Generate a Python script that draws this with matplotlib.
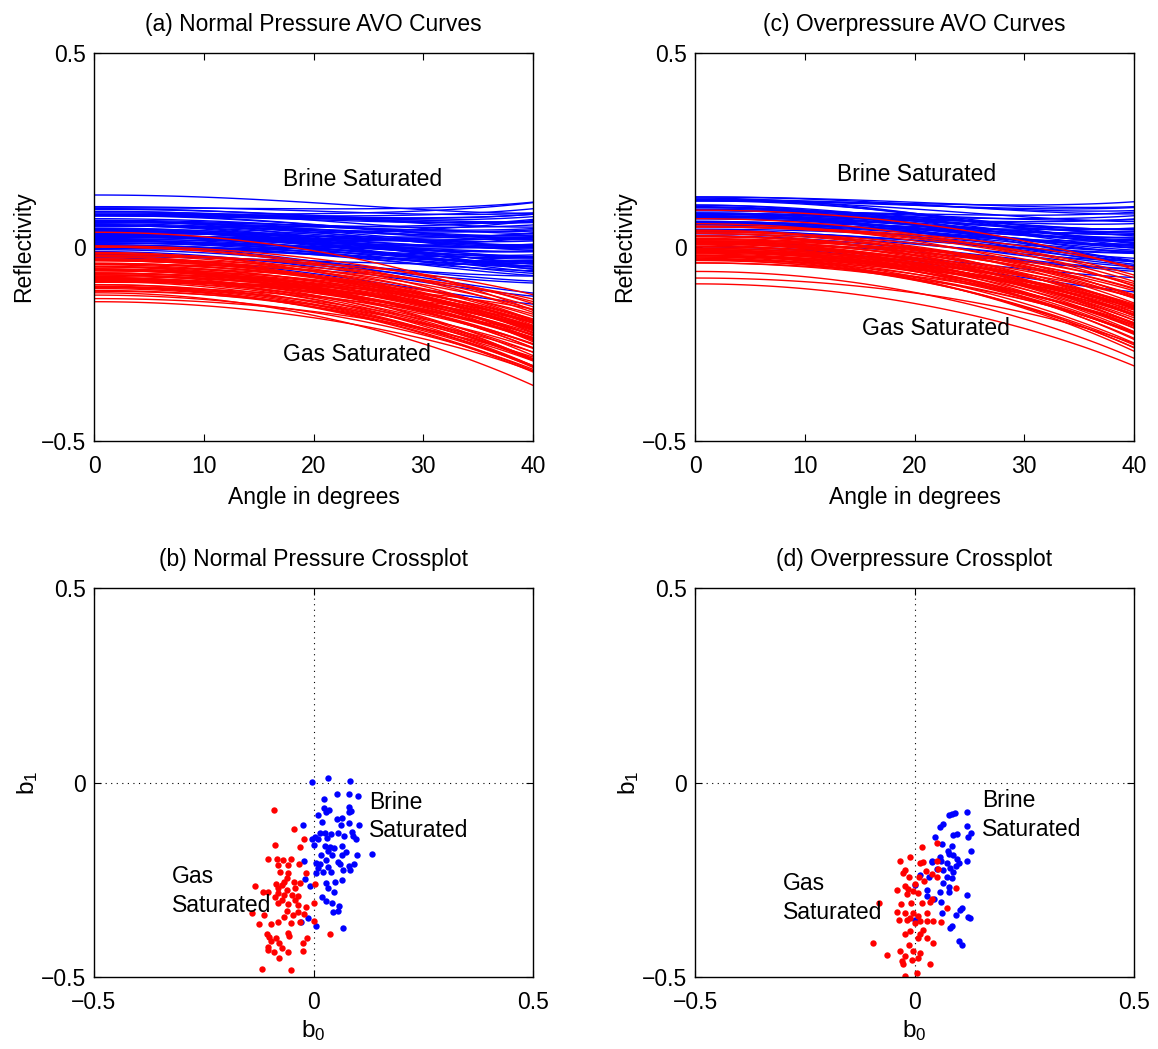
import numpy as np
import matplotlib
matplotlib.use("Agg")
import matplotlib.pyplot as plt

plt.rcParams['font.family'] = ['Liberation Sans', 'DejaVu Sans']
plt.rcParams['mathtext.default'] = 'regular'

# ---------------- data: intercept (b0) / gradient (b1) crossplots ----------------
# (b) Normal pressure, brine saturated
np_brine_b0 = [0.034, -0.004, 0.084, 0.025, 0.054, 0.082, 0.101, 0.024, 0.035, 0.029,
               0.081, 0.085, 0.080, 0.010, 0.054, 0.065, 0.020, 0.063, 0.081, 0.104,
               -0.025, 0.015, 0.026, 0.041, 0.055, 0.069, 0.088, 0.091, 0.003, 0.030,
               -0.004, 0.010, 0.097, 0.134,
               0.000, 0.026, 0.038, 0.047, 0.032, 0.064, 0.017, 0.043, 0.066, 0.073,
               0.099, -0.021, 0.005, 0.015, 0.028, 0.055, 0.060, 0.081, 0.092, 0.011,
               0.022, 0.041, 0.067, 0.083, 0.032, 0.006, -0.019, 0.028, 0.049, 0.066,
               -0.007, 0.034, 0.047, 0.019, 0.029, 0.043, 0.058,
               -0.028, -0.012, 0.005, 0.045, 0.056, 0.068]
np_brine_b1 = [0.012, 0.001, 0.003, -0.042, -0.029, -0.030, -0.035, -0.065, -0.070, -0.076,
               -0.062, -0.072, -0.075, -0.084, -0.094, -0.090, -0.101, -0.108, -0.105, -0.110,
               -0.108, -0.131, -0.130, -0.132, -0.129, -0.138, -0.127, -0.138, -0.140, -0.142,
               -0.144, -0.144, -0.145, -0.184,
               -0.161, -0.163, -0.167, -0.169, -0.175, -0.163, -0.186, -0.186, -0.186, -0.178,
               -0.186, -0.201, -0.206, -0.210, -0.199, -0.204, -0.210, -0.215, -0.210, -0.221,
               -0.229, -0.229, -0.225, -0.225, -0.216, -0.233, -0.249, -0.259, -0.255, -0.251,
               -0.266, -0.272, -0.281, -0.294, -0.305, -0.311, -0.317,
               -0.359, -0.348, -0.370, -0.333, -0.330, -0.374]

# (b) Normal pressure, gas saturated
np_gas_b0 = [-0.091, -0.044, -0.022,
             -0.088, -0.031, -0.103, -0.084, -0.069, -0.051, -0.082, -0.057, -0.033, -0.076,
             -0.059, -0.017, -0.061, -0.067, -0.044, -0.031, -0.085, -0.072, -0.133, 0.003,
             -0.080, -0.061, -0.042, -0.114, -0.104, -0.080, -0.067, -0.050, -0.035, -0.088,
             -0.072, -0.042, -0.080, -0.059, -0.035, 0.000, -0.017,
             -0.141, -0.124, -0.112, -0.097, -0.082, -0.067, -0.061, -0.046, -0.035, -0.051,
             -0.031, -0.021, 0.000, -0.107, -0.101, -0.086, -0.097, -0.079, -0.059, -0.056,
             -0.014, -0.025, -0.103, -0.104, -0.072, -0.089, -0.059, -0.025, -0.079, -0.118,
             -0.051, 0.038]
np_gas_b1 = [-0.070, -0.120, -0.146,
             -0.161, -0.167, -0.197, -0.197, -0.199, -0.197, -0.212, -0.212, -0.210, -0.229,
             -0.233, -0.233, -0.246, -0.255, -0.255, -0.259, -0.262, -0.264, -0.266, -0.262,
             -0.272, -0.276, -0.272, -0.281, -0.282, -0.285, -0.289, -0.289, -0.292, -0.295,
             -0.302, -0.302, -0.311, -0.312, -0.315, -0.309, -0.319,
             -0.335, -0.364, -0.341, -0.364, -0.359, -0.347, -0.331, -0.340, -0.333, -0.361,
             -0.359, -0.338, -0.357, -0.389, -0.398, -0.401, -0.408, -0.413, -0.387, -0.395,
             -0.401, -0.413, -0.424, -0.430, -0.425, -0.437, -0.436, -0.432, -0.451, -0.479,
             -0.482, -0.389]

# (d) Overpressure, brine saturated
op_brine_b0 = [0.078, 0.085, 0.093, 0.119, 0.058, 0.064, 0.119, 0.046, 0.087, 0.096,
               0.129, 0.123, 0.062, 0.085, 0.076, 0.129, 0.057, 0.079, 0.087, 0.040,
               0.060, 0.097, 0.120,
               0.039, 0.073, 0.095, 0.101, 0.052, 0.066, 0.081, 0.088, 0.013, 0.034,
               0.073, 0.085, 0.001, 0.066, 0.079, 0.028, 0.058, 0.079, 0.119, 0.029,
               0.044, 0.060, 0.104, 0.108, 0.062, 0.095, 0.123, 0.126,
               0.081, 0.085, 0.102, 0.108, 0.001]
op_brine_b1 = [-0.084, -0.081, -0.078, -0.076, -0.114, -0.107, -0.112, -0.141, -0.135, -0.132,
               -0.131, -0.141, -0.159, -0.163, -0.176, -0.176, -0.191, -0.184, -0.186, -0.202,
               -0.201, -0.197, -0.202,
               -0.204, -0.206, -0.215, -0.208, -0.223, -0.225, -0.221, -0.229, -0.238, -0.242,
               -0.242, -0.246, -0.263, -0.259, -0.268, -0.276, -0.281, -0.281, -0.289, -0.292,
               -0.300, -0.306, -0.328, -0.322, -0.336, -0.341, -0.347, -0.348,
               -0.374, -0.370, -0.407, -0.417, -0.353]

# (d) Overpressure, gas saturated
op_gas_b0 = [0.052, 0.016, -0.010, -0.033, 0.019, 0.052,
             0.013, -0.022, -0.026, 0.026, 0.039, 0.052, 0.054, -0.012, 0.011, 0.022,
             0.001, -0.022, -0.041, -0.014, -0.004, 0.007, -0.016, 0.039, 0.035, 0.016,
             -0.008, -0.031, -0.080, -0.041, -0.022, -0.003, 0.009, 0.028, 0.073, -0.010,
             0.095,
             -0.095, -0.063, -0.035, -0.018, 0.001, 0.013, 0.028, 0.043, 0.060, -0.022,
             -0.010, 0.013, 0.009, 0.020, 0.029, 0.043, -0.012, -0.033, -0.003, 0.013,
             -0.022, -0.006, 0.009, -0.029, -0.026, 0.035, 0.005, -0.022]
op_gas_b1 = [-0.155, -0.167, -0.192, -0.202, -0.204, -0.202,
             -0.206, -0.225, -0.232, -0.227, -0.235, -0.242, -0.223, -0.244, -0.244, -0.252,
             -0.261, -0.266, -0.276, -0.275, -0.278, -0.283, -0.287, -0.300, -0.306, -0.311,
             -0.309, -0.313, -0.309, -0.332, -0.335, -0.336, -0.343, -0.336, -0.323, -0.349,
             -0.272,
             -0.413, -0.443, -0.353, -0.353, -0.361, -0.355, -0.357, -0.355, -0.359, -0.389,
             -0.383, -0.389, -0.400, -0.378, -0.401, -0.413, -0.417, -0.432, -0.432, -0.438,
             -0.447, -0.456, -0.451, -0.458, -0.467, -0.467, -0.490, -0.498]

# curvature (third AVO term) per group
curv_brine = 0.10
curv_gas = -0.14

angle_deg = np.linspace(0, 40, 81)

W, H = 1158, 1049
fig = plt.figure(figsize=(W / 100, H / 100), dpi=100)

FS = 16.5
BLUE = '#0000ff'
RED = '#ff0000'


def frac(l, t, r, b):
    return [l / W, 1 - b / H, (r - l) / W, (b - t) / H]


def style(ax):
    for s in ax.spines.values():
        s.set_linewidth(1.0)
    ax.tick_params(direction='in', top=True, right=True, length=5, width=0.8,
                   labelsize=FS)
    ax.tick_params(axis='x', pad=10)
    ax.tick_params(axis='y', pad=6)


def avo_panel(ax, brine_b0, brine_b1, gas_b0, gas_b1, title, texts):
    th = np.deg2rad(angle_deg)
    s2 = np.sin(th) ** 2
    t2 = np.tan(th) ** 2
    for a, b in zip(brine_b0, brine_b1):
        ax.plot(angle_deg, a + b * s2 + curv_brine * s2 * t2, color=BLUE, lw=1.0)
    for a, b in zip(gas_b0, gas_b1):
        ax.plot(angle_deg, a + b * s2 + curv_gas * s2 * t2, color=RED, lw=1.0)
    ax.set_xlim(0, 40)
    ax.set_ylim(-0.5, 0.5)
    ax.set_xticks([0, 10, 20, 30, 40])
    ax.set_yticks([-0.5, 0, 0.5])
    ax.set_yticklabels(['\u22120.5', '0', '0.5'])
    ax.set_xlabel('Angle in degrees', fontsize=FS, labelpad=6)
    ax.set_ylabel('Reflectivity', fontsize=FS, labelpad=4)
    ax.set_title(title, fontsize=FS, pad=16)
    for (x, y, s) in texts:
        ax.text(x, y, s, fontsize=FS, ha='left', va='center')
    style(ax)


def cross_panel(ax, brine_b0, brine_b1, gas_b0, gas_b1, title, texts):
    ax.axhline(0, color='k', ls=(0, (1, 4)), lw=0.8)
    ax.axvline(0, color='k', ls=(0, (1, 4)), lw=0.8)
    ax.plot(brine_b0, brine_b1, 'o', color=BLUE, ms=4.6, mew=0)
    ax.plot(gas_b0, gas_b1, 'o', color=RED, ms=4.6, mew=0)
    ax.set_xlim(-0.5, 0.5)
    ax.set_ylim(-0.5, 0.5)
    ax.set_xticks([-0.5, 0, 0.5])
    ax.set_yticks([-0.5, 0, 0.5])
    ax.set_xticklabels(['\u22120.5', '0', '0.5'])
    ax.set_yticklabels(['\u22120.5', '0', '0.5'])
    ax.set_xlabel('b$_0$', fontsize=FS + 1, labelpad=3)
    ax.set_ylabel('b$_1$', fontsize=FS + 1, labelpad=0)
    ax.set_title(title, fontsize=FS, pad=16)
    for (x, y, s) in texts:
        ax.text(x, y, s, fontsize=FS, ha='left', va='center', linespacing=1.3)
    style(ax)


ax_a = fig.add_axes(frac(94, 53, 533, 441))
ax_c = fig.add_axes(frac(695, 53, 1134, 441))
ax_b = fig.add_axes(frac(94, 588, 533, 977))
ax_d = fig.add_axes(frac(695, 588, 1134, 977))

avo_panel(ax_a, np_brine_b0, np_brine_b1, np_gas_b0, np_gas_b1,
          '(a) Normal Pressure AVO Curves',
          [(17.2, 0.173, 'Brine Saturated'), (17.2, -0.278, 'Gas Saturated')])
avo_panel(ax_c, op_brine_b0, op_brine_b1, op_gas_b0, op_gas_b1,
          '(c) Overpressure AVO Curves',
          [(12.9, 0.188, 'Brine Saturated'), (15.2, -0.209, 'Gas Saturated')])
cross_panel(ax_b, np_brine_b0, np_brine_b1, np_gas_b0, np_gas_b1,
            '(b) Normal Pressure Crossplot',
            [(0.126, -0.087, 'Brine\nSaturated'), (-0.322, -0.279, 'Gas\nSaturated')])
cross_panel(ax_d, op_brine_b0, op_brine_b1, op_gas_b0, op_gas_b1,
            '(d) Overpressure Crossplot',
            [(0.154, -0.084, 'Brine\nSaturated'), (-0.300, -0.297, 'Gas\nSaturated')])

fig.savefig('out.png', dpi=100)
